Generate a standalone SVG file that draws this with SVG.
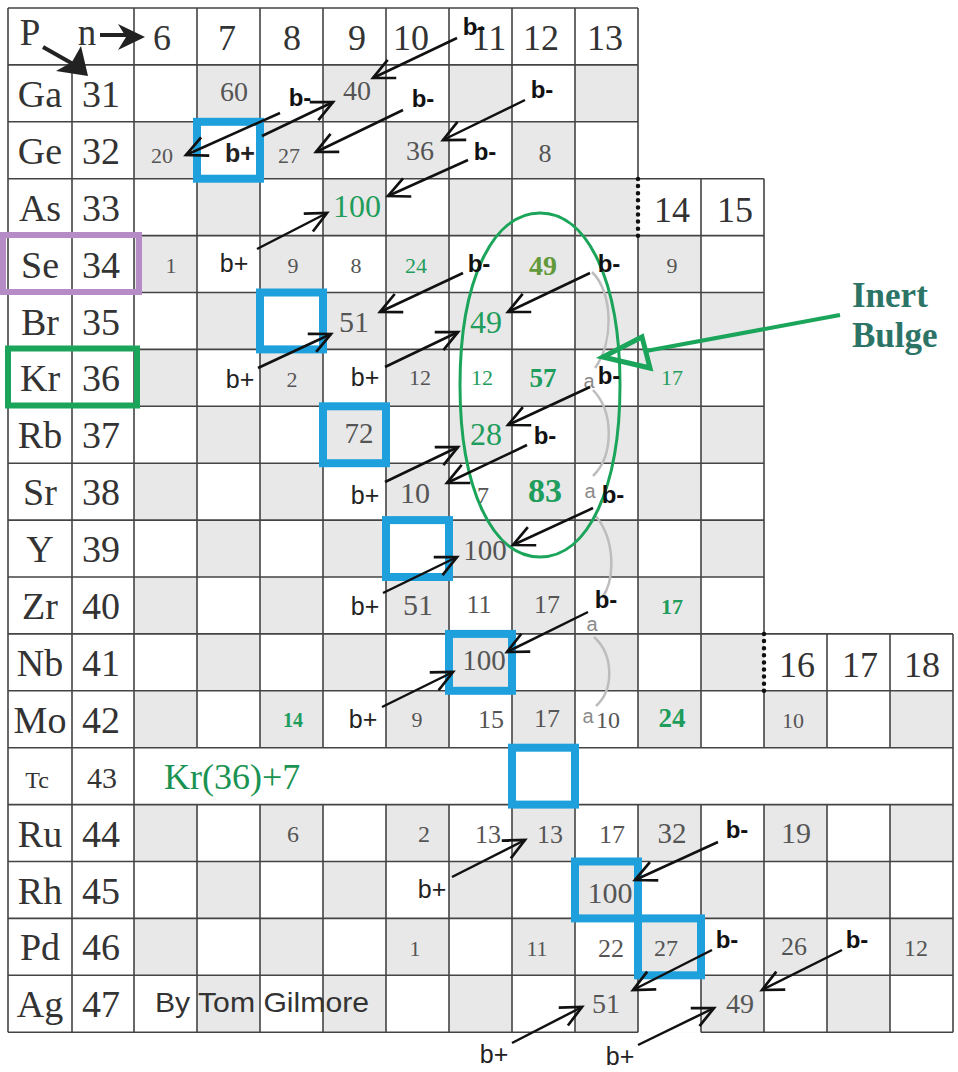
<svg xmlns="http://www.w3.org/2000/svg" width="958" height="1072" viewBox="0 0 958 1072">
<style>
.sf{font-family:"Liberation Serif","Times New Roman",serif}
.ss{font-family:"Liberation Sans",Arial,sans-serif}
.el{font-size:38px;fill:#333;text-anchor:middle}
.hd{font-size:36px;fill:#333;text-anchor:middle}
.v{fill:#555;text-anchor:middle}
.g{fill:#1f9d5c}
.o{fill:#62993a;font-weight:bold}
.bd{font-weight:bold}
.bm{font-size:24px;font-weight:bold;fill:#111;text-anchor:middle}
.bp{font-size:25px;fill:#222;text-anchor:middle}
.a{font-size:20px;fill:#8a8a8a;text-anchor:middle}
.f20{font-size:20px}.f22{font-size:22px}.f24{font-size:24px}.f26{font-size:26px}.f27{font-size:27px}.f28{font-size:28px}.f29{font-size:29px}.f30{font-size:30px}.f32{font-size:32px}.f34{font-size:34px}
.ln{stroke:#444;stroke-width:1.6;fill:none}
.dot{stroke:#111;stroke-width:4.5;stroke-linecap:round;stroke-dasharray:0 7.1;fill:none}
.hl{fill:none;stroke:#1ea0dc;stroke-width:8}
.ar{stroke:#111;stroke-width:2.5;fill:none;marker-end:url(#ah)}
.al{stroke:#bdbdbd;stroke-width:2.5;fill:none}
</style>
<defs>
<pattern id="checker" patternUnits="userSpaceOnUse" x="134" y="64.9" width="126" height="113.8">
<rect x="63" y="0" width="63" height="56.9" fill="#e8e8e8"/>
<rect x="0" y="56.9" width="63" height="56.9" fill="#e8e8e8"/>
</pattern>
<marker id="ah" markerUnits="userSpaceOnUse" viewBox="-30 -20 40 40" markerWidth="40" markerHeight="40" refX="0" refY="0" orient="auto" overflow="visible">
<path d="M-21,-10L0,0L-21,10" fill="none" stroke="#111" stroke-width="2.7"/>
</marker>
</defs>
<rect x="0" y="0" width="958" height="1072" fill="#fff"/>

<g id="grid">
<rect x="134" y="64.9" width="504" height="170.7" fill="url(#checker)"/>
<rect x="134" y="235.6" width="630" height="455.2" fill="url(#checker)"/>
<rect x="134" y="690.8" width="819" height="56.9" fill="url(#checker)"/>
<rect x="134" y="804.6" width="819" height="227.6" fill="url(#checker)"/>
<path class="ln" d="M8,8H638M8,64.9H638M8,121.8H638M8,178.7H764M8,235.6H764M8,292.5H764M8,349.4H764M8,406.3H764M8,463.2H764M8,520.1H764M8,577H764M8,633.9H953M8,690.8H953M8,747.7H953M8,804.6H953M8,861.5H953M8,918.4H953M8,975.3H953M8,1032.2H638M701,1032.2H953
M8,8V1032.2M72,64.9V1032.2M134,8V1032.2
M197,8V747.7M197,804.6V1032.2M260,8V747.7M260,804.6V1032.2M323,8V747.7M323,804.6V1032.2M386,8V747.7M386,804.6V1032.2
M449,8V747.7M449,804.6V1032.2M512,8V747.7M512,804.6V1032.2M575,8V747.7M575,804.6V1032.2
M638,8V178.7M638,235.6V747.7M638,804.6V1032.2M701,178.7V747.7M701,804.6V1032.2
M764,178.7V633.9M764,690.8V747.7M764,804.6V1032.2M827,633.9V747.7M827,804.6V1032.2M890,633.9V747.7M890,804.6V1032.2M953,633.9V1032.2"/>
<path class="dot" d="M638,179V236M764,634V691"/>
</g>

<g id="highlights">
<rect class="hl" x="197" y="121.8" width="63" height="56.9"/>
<rect class="hl" x="260" y="292.5" width="63" height="56.9"/>
<rect class="hl" x="323" y="406.3" width="63" height="56.9"/>
<rect class="hl" x="386" y="520.1" width="63" height="56.9"/>
<rect class="hl" x="449" y="633.9" width="63" height="56.9"/>
<rect class="hl" x="512" y="747.7" width="63" height="56.9"/>
<rect class="hl" x="575" y="861.5" width="63" height="56.9"/>
<rect class="hl" x="638" y="918.4" width="63" height="56.9"/>
<rect x="3" y="235" width="136" height="57" fill="none" stroke="#b68cc6" stroke-width="6"/>
<rect x="8" y="348.5" width="129" height="57" fill="none" stroke="#1aa55a" stroke-width="6"/>
</g>

<g id="alpha-path">
<path class="al" d="M592,272C613,292 614,342 595,368M593,390C614,412 614,455 593,476M595,515C616,540 615,580 602,598M594,637C614,655 614,690 596,706"/>
</g>

<g id="inert-bulge">
<path d="M540,213C588,213 620,282 620,385C620,488 588,557 540,557C492,557 460,488 460,385C460,282 492,213 540,213Z" fill="none" stroke="#1aa55a" stroke-width="3"/>
<line x1="840" y1="315" x2="646" y2="351" stroke="#1aa55a" stroke-width="4"/>
<polygon points="603,357 642,337 650,368" fill="none" stroke="#1aa55a" stroke-width="5"/>
<text class="sf bd" x="852" y="307" style="font-size:35px;fill:#2b7466">Inert</text>
<text class="sf bd" x="852" y="347" style="font-size:35px;fill:#2b7466">Bulge</text>
</g>

<g id="header">
<text class="sf hd" x="30" y="45" style="font-size:37px">P</text>
<text class="sf hd" x="87" y="45" style="font-size:37px">n</text>
<path d="M100,35H126" stroke="#222" stroke-width="4"/>
<polygon points="118,24 145,37 118,50 126,37" fill="#222"/>
<path d="M43,47L73,64" stroke="#222" stroke-width="4"/>
<polygon points="88,76 56,71 72,62 81,46" fill="#222"/>
<text class="sf hd" x="162" y="50">6</text>
<text class="sf hd" x="227" y="50">7</text>
<text class="sf hd" x="292" y="50">8</text>
<text class="sf hd" x="357" y="50">9</text>
<text class="sf hd" x="411" y="50">10</text>
<text class="sf hd" x="489" y="50">11</text>
<text class="sf hd" x="541" y="50">12</text>
<text class="sf hd" x="605" y="50">13</text>
<text class="ss bm" x="474" y="35">b-</text>
</g>

<g id="row-Ga">
<text class="sf el" x="40" y="107">Ga</text><text class="sf el" x="101" y="107">31</text>
<text class="sf v f28" x="234" y="101">60</text>
<text class="sf v f28" x="357" y="100">40</text>
<text class="ss bm" x="300" y="106">b-</text>
<text class="ss bm" x="423" y="107">b-</text>
<text class="ss bm" x="542" y="98">b-</text>
</g>
<g id="row-Ge">
<text class="sf el" x="40" y="164">Ge</text><text class="sf el" x="101" y="164">32</text>
<text class="sf v f22" x="162" y="163">20</text>
<text class="ss bp bd" x="240" y="162">b+</text>
<text class="sf v f22" x="289" y="163">27</text>
<text class="sf v f28" x="420" y="160">36</text>
<text class="sf v f26" x="545" y="162">8</text>
<text class="ss bm" x="485" y="160">b-</text>
</g>
<g id="row-As">
<text class="sf el" x="40" y="221">As</text><text class="sf el" x="101" y="221">33</text>
<text class="sf v g f32" x="357" y="217">100</text>
<text class="sf hd" x="672" y="222">14</text>
<text class="sf hd" x="735" y="222">15</text>
</g>
<g id="row-Se">
<text class="sf el" x="40" y="278">Se</text><text class="sf el" x="101" y="278">34</text>
<text class="sf v f22" x="171" y="273">1</text>
<text class="ss bp" x="234" y="272">b+</text>
<text class="sf v f22" x="293" y="273">9</text>
<text class="sf v f22" x="356" y="273">8</text>
<text class="sf v g f22" x="416" y="273">24</text>
<text class="ss bm" x="479" y="272">b-</text>
<text class="sf v o f28" x="543" y="275">49</text>
<text class="ss bm" x="609" y="272">b-</text>
<text class="sf v f22" x="672" y="273">9</text>
</g>
<g id="row-Br">
<text class="sf el" x="40" y="335">Br</text><text class="sf el" x="101" y="335">35</text>
<text class="sf v f30" x="354" y="332">51</text>
<text class="sf v g f32" x="486" y="333">49</text>
</g>
<g id="row-Kr">
<text class="sf el" x="40" y="391">Kr</text><text class="sf el" x="101" y="391">36</text>
<text class="ss bp" x="240" y="388">b+</text>
<text class="sf v f22" x="292" y="387">2</text>
<text class="ss bp" x="365" y="386">b+</text>
<text class="sf v f22" x="420" y="385">12</text>
<text class="sf v g f22" x="482" y="385">12</text>
<text class="sf v g bd f27" x="543" y="387">57</text>
<text class="ss a" x="589" y="388">a</text>
<text class="ss bm" x="609" y="384">b-</text>
<text class="sf v g f22" x="672" y="385">17</text>
</g>
<g id="row-Rb">
<text class="sf el" x="40" y="448">Rb</text><text class="sf el" x="101" y="448">37</text>
<text class="sf v f29" x="359" y="443">72</text>
<text class="sf v g f32" x="486" y="445">28</text>
<text class="ss bm" x="545" y="444">b-</text>
</g>
<g id="row-Sr">
<text class="sf el" x="40" y="505">Sr</text><text class="sf el" x="101" y="505">38</text>
<text class="ss bp" x="365" y="504">b+</text>
<text class="sf v f30" x="415" y="503">10</text>
<text class="sf v f24" x="483" y="503">7</text>
<text class="sf v g bd f34" x="545" y="502">83</text>
<text class="ss a" x="590" y="498">a</text>
<text class="ss bm" x="613" y="503">b-</text>
</g>
<g id="row-Y">
<text class="sf el" x="40" y="562">Y</text><text class="sf el" x="101" y="562">39</text>
<text class="sf v f29" x="485" y="560">100</text>
</g>
<g id="row-Zr">
<text class="sf el" x="40" y="619">Zr</text><text class="sf el" x="101" y="619">40</text>
<text class="ss bp" x="365" y="615">b+</text>
<text class="sf v f30" x="418" y="615">51</text>
<text class="sf v f26" x="479" y="613">11</text>
<text class="sf v f26" x="547" y="613">17</text>
<text class="ss bm" x="606" y="608">b-</text>
<text class="ss a" x="592" y="631">a</text>
<text class="sf v g bd f22" x="672" y="614">17</text>
</g>
<g id="row-Nb">
<text class="sf el" x="40" y="676">Nb</text><text class="sf el" x="101" y="676">41</text>
<text class="sf v f29" x="484" y="670">100</text>
<text class="sf hd" x="797" y="677">16</text>
<text class="sf hd" x="860" y="677">17</text>
<text class="sf hd" x="922" y="677">18</text>
</g>
<g id="row-Mo">
<text class="sf el" x="40" y="733">Mo</text><text class="sf el" x="101" y="733">42</text>
<text class="sf v g bd f20" x="293" y="727">14</text>
<text class="ss bp" x="363" y="728">b+</text>
<text class="sf v f22" x="417" y="727">9</text>
<text class="sf v f26" x="491" y="728">15</text>
<text class="sf v f26" x="547" y="727">17</text>
<text class="ss a" x="588" y="723">a</text>
<text class="sf v f24" x="608" y="728">10</text>
<text class="sf v g bd f27" x="672" y="727">24</text>
<text class="sf v f22" x="793" y="728">10</text>
</g>
<g id="row-Tc">
<text class="sf el" x="37" y="788" style="font-size:24px">Tc</text><text class="sf el" x="102" y="788" style="font-size:30px">43</text>
<text class="sf" x="164" y="789" style="font-size:36px;fill:#1a9352">Kr(36)+7</text>
</g>
<g id="row-Ru">
<text class="sf el" x="40" y="847">Ru</text><text class="sf el" x="101" y="847">44</text>
<text class="sf v f24" x="293" y="842">6</text>
<text class="sf v f24" x="424" y="842">2</text>
<text class="sf v f26" x="488" y="843">13</text>
<text class="sf v f26" x="550" y="843">13</text>
<text class="sf v f26" x="612" y="843">17</text>
<text class="sf v f29" x="672" y="843">32</text>
<text class="ss bm" x="737" y="838">b-</text>
<text class="sf v f30" x="796" y="843">19</text>
</g>
<g id="row-Rh">
<text class="sf el" x="40" y="904">Rh</text><text class="sf el" x="101" y="904">45</text>
<text class="ss bp" x="432" y="898">b+</text>
<text class="sf v f30" x="610" y="903">100</text>
</g>
<g id="row-Pd">
<text class="sf el" x="40" y="960">Pd</text><text class="sf el" x="101" y="960">46</text>
<text class="sf v f22" x="415" y="956">1</text>
<text class="sf v f22" x="537" y="956">11</text>
<text class="sf v f26" x="611" y="957">22</text>
<text class="sf v f24" x="666" y="956">27</text>
<text class="ss bm" x="727" y="948">b-</text>
<text class="sf v f26" x="794" y="955">26</text>
<text class="ss bm" x="857" y="948">b-</text>
<text class="sf v f24" x="916" y="956">12</text>
</g>
<g id="row-Ag">
<text class="sf el" x="40" y="1017">Ag</text><text class="sf el" x="101" y="1017">47</text>
<text class="ss" x="155" y="1012" style="font-size:28px;fill:#333" textLength="214" lengthAdjust="spacingAndGlyphs">By Tom Gilmore</text>
<text class="sf v f28" x="606" y="1013">51</text>
<text class="sf v f28" x="740" y="1013">49</text>
<text class="ss bp" x="494" y="1063">b+</text>
<text class="ss bp" x="620" y="1065">b+</text>
</g>

<g id="connectors">
<path class="ar" d="M457,38L373,78"/>
<path class="ar" d="M262,136L333,102"/>
<path class="ar" d="M280,113L186,155"/>
<path class="ar" d="M403,110L316,152"/>
<path class="ar" d="M525,100L443,140"/>
<path class="ar" d="M468,160L388,196"/>
<path class="ar" d="M257,249L327,213"/>
<path class="ar" d="M463,273L380,312"/>
<path class="ar" d="M590,273L508,312"/>
<path class="ar" d="M258,368L331,334"/>
<path class="ar" d="M385,367L458,332"/>
<path class="ar" d="M590,387L508,425"/>
<path class="ar" d="M527,445L447,483"/>
<path class="ar" d="M385,482L458,447"/>
<path class="ar" d="M593,508L513,545"/>
<path class="ar" d="M383,593L457,557"/>
<path class="ar" d="M588,612L507,652"/>
<path class="ar" d="M382,707L453,672"/>
<path class="ar" d="M452,877L525,840"/>
<path class="ar" d="M718,842L635,880"/>
<path class="ar" d="M712,950L633,990"/>
<path class="ar" d="M842,950L762,990"/>
<path class="ar" d="M512,1043L582,1007"/>
<path class="ar" d="M638,1045L714,1008"/>
</g>
</svg>
